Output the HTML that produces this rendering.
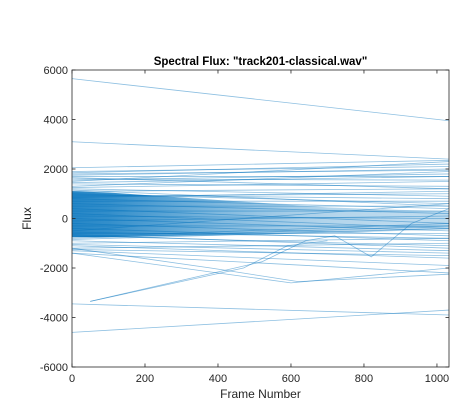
<!DOCTYPE html>
<html><head><meta charset="utf-8"><style>
html,body{margin:0;padding:0;background:#fff;}
svg{display:block;font-family:"Liberation Sans",Arial,sans-serif;}
</style></head><body>
<svg id="chart" width="472" height="415" viewBox="0 0 472 415" xmlns="http://www.w3.org/2000/svg">
<rect width="472" height="415" fill="#fff"/>
<g id="plot"></g>
<g id="axes"></g>
</svg>
<script>
const xTicks=[0,200,400,600,800,1000];
const yTicks=[6000,4000,2000,0,-2000,-4000,-6000];
const lineStart=[5650,3100,2050,1900,1800,1700,1600,1500,1400,1300,1200,1100,1000,900,800,700,600,500,400,300,200,100,0,-100,-200,-300,-400,-500,-600,-700,-800,-900,-1000,-1100,-1200,-1300,-1400,1750,1550,1250,950,-650,-850,-1250,-3450,-4600,1850,1650,1450,1150,850,-550,-750,-1050];
const lineEnd=[3950,2400,2350,2100,1950,1700,1550,2300,1300,1900,900,1200,600,1000,400,700,200,500,-200,300,-400,0,-500,100,-700,-300,-900,600,-600,-1100,-300,-1300,-800,-1600,-1000,-1900,-2200,2000,1800,1500,800,-1200,-400,-1500,-3900,-3700,2200,1200,1700,500,1100,-800,-200,-1400];
const polyX=[[50,520,640,720,820,930,1033],[50,470,590,700],[0,600,1033],[0,380,620,1033]];
const polyY=[[-3350,-1750,-900,-700,-1550,-200,400],[-3350,-2000,-1100,-900],[-1400,-2600,-2000],[-1200,-2000,-2550,-2250]];
const clusterX=[0,100,200,300,400,500,600,700,800,900,1033];
const clusterTop=[1100,1050,950,850,750,650,550,450,400,350,300];
const clusterBot=[-750,-750,-720,-700,-680,-650,-620,-580,-550,-500,-450];
const clusterAlpha=[0.85,0.8,0.7,0.6,0.5,0.42,0.35,0.3,0.28,0.26,0.25];

const X0=72,X1=449,Y0=70,Y1=367,XMAX=1033;
const sx=v=>X0+v/XMAX*(X1-X0);
const sy=v=>Y0+(6000-v)/12000*(Y1-Y0);
const NS="http://www.w3.org/2000/svg";
const plot=document.getElementById('plot'),axes=document.getElementById('axes');
function mk(t,a,p){const e=document.createElementNS(NS,t);for(const k in a)e.setAttribute(k,a[k]);p.appendChild(e);return e;}

const defs=mk('defs',{},plot);
const grad=mk('linearGradient',{id:'cg',x1:'0',y1:'0',x2:'1',y2:'0'},defs);
clusterX.forEach((x,i)=>mk('stop',{offset:x/XMAX,'stop-color':'#0072BD','stop-opacity':clusterAlpha[i]},grad));
let pts=clusterX.map((x,i)=>sx(x)+','+sy(clusterTop[i]));
for(let i=clusterX.length-1;i>=0;i--)pts.push(sx(clusterX[i])+','+sy(clusterBot[i]));
const cl=mk('polygon',{points:pts.join(' '),fill:'url(#cg)'},plot);



lineStart.forEach((v,i)=>{
 const l=mk('line',{x1:sx(0),y1:sy(v),x2:sx(XMAX),y2:sy(lineEnd[i]),stroke:'#0072BD','stroke-width':0.8,'stroke-opacity':0.45},plot);
 
 
});
polyX.forEach((xs,i)=>{
 const p=mk('polyline',{points:xs.map((x,j)=>sx(x)+','+sy(polyY[i][j])).join(' '),fill:'none',stroke:'#0072BD','stroke-width':0.8,'stroke-opacity':0.45},plot);
 
 
});

const box=mk('rect',{x:X0,y:Y0,width:X1-X0,height:Y1-Y0,fill:'none',stroke:'#262626','stroke-width':0.8},axes);


xTicks.forEach(t=>{
 mk('line',{x1:sx(t),y1:Y1,x2:sx(t),y2:Y1-3.5,stroke:'#262626','stroke-width':0.8},axes);
 mk('line',{x1:sx(t),y1:Y0,x2:sx(t),y2:Y0+3.5,stroke:'#262626','stroke-width':0.8},axes);
 const tx=mk('text',{x:sx(t),y:Y1+15,'text-anchor':'middle','font-size':11,fill:'#262626'},axes);
 tx.textContent=t;
 
 
});
yTicks.forEach(t=>{
 mk('line',{x1:X0,y1:sy(t),x2:X0+3.5,y2:sy(t),stroke:'#262626','stroke-width':0.8},axes);
 mk('line',{x1:X1,y1:sy(t),x2:X1-3.5,y2:sy(t),stroke:'#262626','stroke-width':0.8},axes);
 const tx=mk('text',{x:X0-4,y:sy(t)+4,'text-anchor':'end','font-size':11,fill:'#262626'},axes);
 tx.textContent=t;
 
 
});
const ti=mk('text',{x:(X0+X1)/2,y:Y0-5,'text-anchor':'middle','font-size':11.5,'font-weight':'bold',fill:'#000'},axes);
ti.textContent='Spectral Flux: "track201-classical.wav"';


const xl=mk('text',{x:(X0+X1)/2,y:Y1+31,'text-anchor':'middle','font-size':12,fill:'#262626'},axes);
xl.textContent='Frame Number';


const yl=mk('text',{x:0,y:0,'text-anchor':'middle','font-size':12,fill:'#262626',transform:'translate(31,'+((Y0+Y1)/2)+') rotate(-90)'},axes);
yl.textContent='Flux';


</script>
</body></html>
